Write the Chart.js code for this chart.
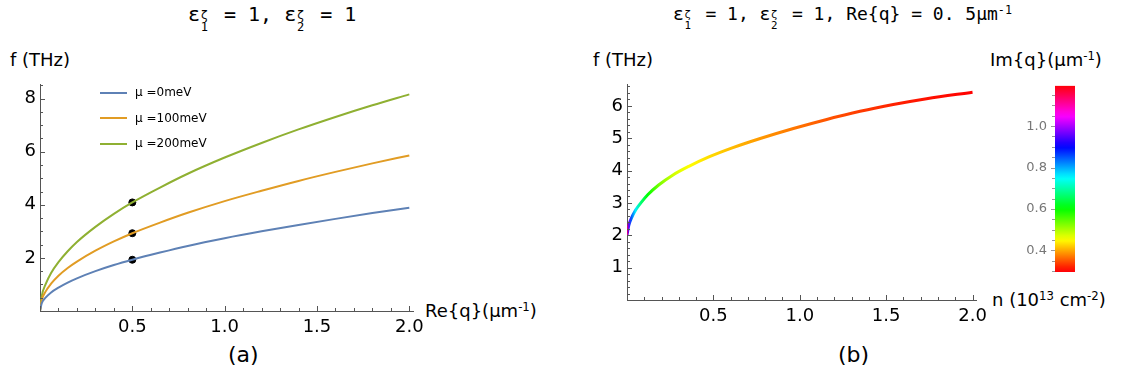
<!DOCTYPE html>
<html>
<head>
<meta charset="utf-8">
<script src="https://cdn.jsdelivr.net/npm/chart.js@4.4.1/dist/chart.umd.min.js"></script>
<style>
body { margin:0; background:#fff; width:1134px; height:380px; overflow:hidden; position:relative; font-family:"DejaVu Sans",sans-serif; color:#000; }
canvas { position:absolute; }
.t { position:absolute; white-space:nowrap; line-height:1; }
.title { font-family:"DejaVu Sans Mono",monospace; font-size:20px; }
.ss { display:inline-flex; flex-direction:column; align-items:flex-start; width:1.55ch; padding-left:0.1ch; font-size:0.6em; line-height:1; vertical-align:0.2em; }
sup { font-size:0.65em; vertical-align:0.55em; line-height:0; }
.lab { font-size:18px; }
.leg { position:absolute; font-size:12px; line-height:1; white-space:nowrap; }
.leg i { display:inline-block; width:27px; height:2px; vertical-align:middle; margin-right:8px; }
</style>
</head>
<body>

<div class="t title" style="left:188px;top:4px">ε<span class="ss"><span>ζ</span><span>1</span></span> = 1, ε<span class="ss"><span>ζ</span><span>2</span></span> = 1</div>
<div class="t title" style="left:673px;top:5px;font-size:18px">ε<span class="ss"><span>ζ</span><span>1</span></span> = 1, ε<span class="ss"><span>ζ</span><span>2</span></span> = 1, Re{q} = 0. 5μm<sup>-1</sup></div>

<div class="t lab" style="left:10px;top:51px">f (THz)</div>
<div class="t lab" style="left:425px;top:302px">Re{q}(μm<sup>-1</sup>)</div>
<div class="t" style="left:228px;top:344px;font-size:22px">(a)</div>

<div class="t lab" style="left:593px;top:51px">f (THz)</div>
<div class="t lab" style="left:992px;top:291px">n (10<sup>13</sup> cm<sup>-2</sup>)</div>
<div class="t" style="left:838px;top:344px;font-size:22px">(b)</div>
<div class="t lab" style="left:990px;top:51px">Im{q}(μm<sup>-1</sup>)</div>

<canvas id="chartA" width="440" height="270" style="left:0;top:70px"></canvas>
<canvas id="chartB" width="440" height="270" style="left:560px;top:70px"></canvas>
<canvas id="chartC" width="134" height="270" style="left:1000px;top:70px"></canvas>
<div id="legendA"></div>

<script>
// (a) dispersion, Re{q} in um^-1 vs f in THz
const qA = [0, 0.01, 0.03, 0.06, 0.1, 0.15, 0.2, 0.3, 0.4, 0.5, 0.65, 0.8, 1.0, 1.2, 1.4, 1.6, 1.8, 2.0];
const fMu0 = [0, 0.30, 0.50, 0.70, 0.88, 1.07, 1.23, 1.50, 1.73, 1.93, 2.20, 2.45, 2.74, 3.00, 3.24, 3.47, 3.69, 3.89];
const fMu100 = [0, 0.42, 0.73, 1.03, 1.33, 1.62, 1.86, 2.27, 2.62, 2.93, 3.33, 3.70, 4.14, 4.53, 4.90, 5.24, 5.56, 5.86];
const fMu200 = [0, 0.58, 1.00, 1.43, 1.84, 2.25, 2.60, 3.17, 3.66, 4.09, 4.65, 5.17, 5.78, 6.33, 6.84, 7.31, 7.75, 8.16];
const muLabels = ['μ =0meV', 'μ =100meV', 'μ =200meV'];
const muColors = ['#5e81b5', '#e19c24', '#8fb032'];
const dotQ = [0.5, 0.5, 0.5];
const dotF = [1.93, 2.93, 4.09];
const xTicksA = [0.5, 1.0, 1.5, 2.0];
const yTicksA = [2, 4, 6, 8];

// (b) f vs n, coloured by Im{q}
const nB = [0, 0.01, 0.025, 0.05, 0.08, 0.12, 0.185, 0.262, 0.358, 0.474, 0.609, 0.771, 0.963, 1.156, 1.349, 1.541, 1.734, 2.0];
const fB = [2.00, 2.30, 2.52, 2.78, 3.00, 3.25, 3.56, 3.85, 4.13, 4.42, 4.70, 4.99, 5.30, 5.58, 5.83, 6.04, 6.22, 6.42];
const imB = [1.15, 0.95, 0.85, 0.76, 0.67, 0.60, 0.53, 0.48, 0.45, 0.43, 0.41, 0.39, 0.37, 0.35, 0.335, 0.32, 0.31, 0.30];
const xTicksB = [0.5, 1.0, 1.5, 2.0];
const yTicksB = [1, 2, 3, 4, 5, 6];

// colour bar
const cbMin = 0.295, cbMax = 1.195;
const cbTicks = [0.4, 0.6, 0.8, 1.0];

function hueColor(v) {
  let h = (v - 0.3) / 0.9 * 360;
  h = ((h % 360) + 360) % 360;
  return 'hsl(' + h.toFixed(1) + ',100%,50%)';
}

const innerTicks = {
  id: 'innerTicks',
  afterDraw(chart, args, opts) {
    if (!opts.axes) return;
    const c = chart.ctx;
    c.save();
    c.strokeStyle = opts.color || '#555';
    c.lineWidth = 1;
    opts.axes.forEach(a => {
      const s = chart.scales[a.id];
      const first = Math.ceil(s.min / a.minor - 1e-6);
      const last = Math.floor(s.max / a.minor + 1e-6);
      for (let k = first; k <= last; k++) {
        const v = k * a.minor;
        const r = v / a.major;
        const big = Math.abs(r - Math.round(r)) < 1e-6;
        const len = (big ? a.big : a.small) * a.dir;
        const p = Math.round(s.getPixelForValue(v)) + 0.5;
        c.beginPath();
        if (s.isHorizontal()) { c.moveTo(p, s.top); c.lineTo(p, s.top - len); }
        else { c.moveTo(s.right, p); c.lineTo(s.right + len, p); }
        c.stroke();
      }
    });
    c.restore();
  }
};
Chart.register(innerTicks);

const axisColor = '#555';
const tickFont = { family: 'DejaVu Sans', size: 18 };

function axisOpts(min, max, ticks, size, horizontal, pad) {
  return {
    type: 'linear', min: min, max: max,
    grid: { display: false, drawTicks: false },
    border: { display: true, color: axisColor, width: 1 },
    ticks: { color: '#000', font: tickFont, padding: pad, autoSkip: false, maxRotation: 0,
      callback: v => horizontal ? v.toFixed(1) : String(v) },
    afterBuildTicks: s => { s.ticks = ticks.map(v => ({ value: v })); },
    afterFit: s => { if (horizontal) s.height = size; else s.width = size; }
  };
}

// chart (a)
const dsA = [fMu0, fMu100, fMu200].map((f, i) => ({
  label: muLabels[i],
  data: qA.map((q, j) => ({ x: q, y: f[j] })),
  borderColor: muColors[i],
  borderWidth: 2,
  pointRadius: 0,
  cubicInterpolationMode: 'monotone',
  showLine: true
}));
dsA.push({
  label: 'dots',
  data: dotQ.map((q, i) => ({ x: q, y: dotF[i] })),
  backgroundColor: '#000', borderColor: '#000',
  pointRadius: 3.5, showLine: false
});

new Chart(document.getElementById('chartA'), {
  type: 'scatter',
  data: { datasets: dsA },
  options: {
    responsive: false, animation: false,
    layout: { padding: { left: 0, right: 27, top: 12, bottom: 0 } },
    scales: {
      x: axisOpts(0, 2.02, xTicksA, 29, true, 6),
      y: axisOpts(0, 8.52, yTicksA, 40, false, 4)
    },
    plugins: {
      legend: { display: false }, tooltip: { enabled: false },
      innerTicks: { color: axisColor, axes: [
        { id: 'x', minor: 0.1, major: 0.5, big: 5, small: 3, dir: 1 },
        { id: 'y', minor: 0.5, major: 2, big: 5, small: 3, dir: 1 }
      ] }
    }
  }
});

// legend for (a)
const legBox = document.getElementById('legendA');
muLabels.forEach((lab, i) => {
  const d = document.createElement('div');
  d.className = 'leg';
  d.style.left = '100px';
  d.style.top = (86 + i * 25.5) + 'px';
  d.innerHTML = '<i style="background:' + muColors[i] + '"></i>' + lab;
  legBox.appendChild(d);
});

// chart (b)
function curveGradient(ctx) {
  const chart = ctx.chart;
  const xs = chart.scales.x;
  if (!chart.chartArea || !xs) return '#f00';
  const x0 = xs.getPixelForValue(nB[0]);
  const x1 = xs.getPixelForValue(nB[nB.length - 1]);
  const g = chart.ctx.createLinearGradient(x0, 0, x1, 0);
  nB.forEach((n, i) => {
    const off = (xs.getPixelForValue(n) - x0) / (x1 - x0);
    g.addColorStop(Math.min(1, Math.max(0, off)), hueColor(imB[i]));
  });
  return g;
}

new Chart(document.getElementById('chartB'), {
  type: 'scatter',
  data: { datasets: [{
    label: 'f',
    data: nB.map((n, i) => ({ x: n, y: fB[i] })),
    borderColor: curveGradient,
    borderWidth: 3,
    pointRadius: 0,
    cubicInterpolationMode: 'monotone',
    showLine: true
  }] },
  options: {
    responsive: false, animation: false,
    layout: { padding: { left: 0, right: 24, top: 13, bottom: 0 } },
    scales: {
      x: axisOpts(0, 2.02, xTicksB, 40, true, 6),
      y: axisOpts(0, 6.65, yTicksB, 67, false, 4)
    },
    plugins: {
      legend: { display: false }, tooltip: { enabled: false },
      innerTicks: { color: axisColor, axes: [
        { id: 'x', minor: 0.1, major: 0.5, big: 5, small: 3, dir: 1 },
        { id: 'y', minor: 0.2, major: 1, big: 5, small: 3, dir: 1 }
      ] }
    }
  }
});

// colour bar
function barGradient(ctx) {
  const chart = ctx.chart;
  const ys = chart.scales.y;
  if (!chart.chartArea || !ys) return '#f00';
  const g = chart.ctx.createLinearGradient(0, ys.getPixelForValue(cbMin), 0, ys.getPixelForValue(cbMax));
  for (let k = 0; k <= 36; k++) {
    const v = cbMin + (cbMax - cbMin) * k / 36;
    g.addColorStop(k / 36, hueColor(v));
  }
  return g;
}

new Chart(document.getElementById('chartC'), {
  type: 'bar',
  data: { labels: [''], datasets: [{ data: [[cbMin, cbMax]], backgroundColor: barGradient, borderWidth: 0, barPercentage: 1, categoryPercentage: 1 }] },
  options: {
    responsive: false, animation: false,
    layout: { padding: { left: 0, right: 59, top: 12, bottom: 68 } },
    scales: {
      x: { display: false },
      y: {
        type: 'linear', min: cbMin, max: cbMax,
        grid: { display: false, drawTicks: false },
        border: { display: false },
        ticks: { color: '#777', font: { family: 'DejaVu Sans', size: 13 }, padding: 8, autoSkip: false,
          callback: v => v.toFixed(1) },
        afterBuildTicks: s => { s.ticks = cbTicks.map(v => ({ value: v })); },
        afterFit: s => { s.width = 55; }
      }
    },
    plugins: {
      legend: { display: false }, tooltip: { enabled: false },
      innerTicks: { color: '#999', axes: [
        { id: 'y', minor: 0.05, major: 0.2, big: 4, small: 3, dir: -1 }
      ] }
    }
  }
});
</script>
</body>
</html>
